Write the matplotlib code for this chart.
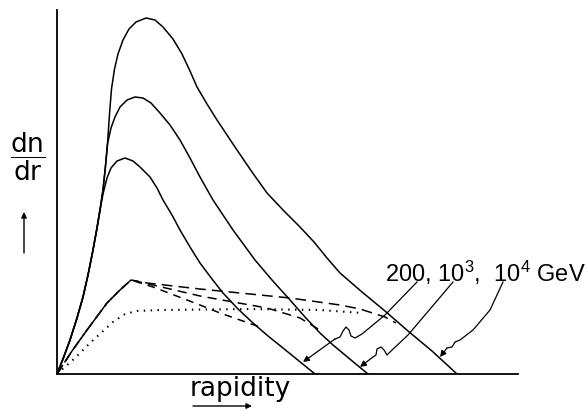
import matplotlib
matplotlib.use("Agg")
import matplotlib.pyplot as plt

# values: rapidity (arbitrary units) vs dn/dr (arbitrary units)
# the three solid curves (200, 10^3, 10^4 GeV) share the rising leg near the origin
x_200 = [0, 0.6, 1.3, 2.0, 2.6, 3.1, 3.6, 4.0, 4.3, 4.6, 5.0, 5.4, 6.0, 6.8, 7.6, 8.3, 9.3, 10.0, 10.6,
         11.5, 12.3, 13.3, 14.3, 15.5, 16.6, 18.1, 19.6, 21.1, 22.6, 24.2, 25.8]
y_200 = [0, 1.5, 3.4, 5.6, 7.7, 9.9, 12.4, 14.6, 16.4, 18.0, 19.6, 20.6, 21.3, 21.6, 21.3, 20.7, 19.7, 18.6, 17.4,
         15.9, 14.4, 12.7, 11.1, 9.5, 8.1, 6.5, 5.1, 3.8, 2.6, 1.3, 0]

x_1e3 = [0, 0.6, 1.3, 2.0, 2.6, 3.1, 3.6, 4.0, 4.3, 4.6, 4.85, 5.05, 5.4, 5.8, 6.3, 7.0, 7.8, 8.6, 9.4, 10.3,
         11.3, 12.3, 13.3, 14.3, 15.6, 16.6, 17.6, 18.7, 19.8, 21.5, 23.3, 24.8, 26.3, 27.6, 28.8, 30.0, 31.1]
y_1e3 = [0, 1.5, 3.4, 5.6, 7.7, 9.9, 12.4, 14.6, 16.4, 18.4, 20.8, 23.0, 24.6, 25.7, 26.7, 27.4, 27.7, 27.6, 27.1, 26.1,
         24.9, 23.4, 21.6, 19.7, 17.4, 15.9, 14.4, 12.9, 11.4, 9.4, 7.4, 5.7, 4.1, 2.9, 1.9, 0.9, 0]

x_1e4 = [0, 0.6, 1.3, 2.0, 2.6, 3.1, 3.6, 4.0, 4.3, 4.6, 4.85, 5.05, 5.25, 5.45, 5.75, 6.1, 6.6, 7.2, 7.9, 8.9,
         9.8, 10.6, 11.6, 12.5, 13.3, 14.0, 15.0, 16.0, 17.0, 18.0, 19.5, 21.0, 22.7, 24.3, 25.7, 27.0, 28.3,
         30.5, 32.8, 35.1, 37.5, 40.0]
y_1e4 = [0, 1.5, 3.4, 5.6, 7.7, 9.9, 12.4, 14.6, 16.4, 18.4, 20.8, 23.0, 26.0, 28.5, 30.5, 32.0, 33.4, 34.5, 35.2, 35.6,
         35.4, 34.7, 33.5, 32.0, 30.3, 28.7, 27.0, 25.4, 23.9, 22.4, 20.2, 18.1, 16.3, 14.7, 13.2, 11.6, 10.1,
         8.2, 6.3, 4.3, 2.3, 0]

# dashed curves
xa = [0, 1.5, 3.0, 5.0, 6.3, 7.4, 9.0, 14.3, 16.3, 23.3, 28.3, 30.3, 32.8, 33.9]
ya = [0, 2.3, 4.4, 7.1, 8.4, 9.4, 9.1, 8.5, 8.3, 7.6, 6.9, 6.5, 5.7, 5.1]
xb = [0, 1.5, 3.0, 5.0, 6.3, 7.4, 9.6, 14.3, 17.6, 21.0, 24.3, 26.6]
yb = [0, 2.3, 4.4, 7.1, 8.4, 9.4, 8.9, 7.8, 7.2, 6.6, 5.6, 4.2]
xc = [0, 1.5, 3.0, 5.0, 6.3, 7.4, 9.6, 13.0, 14.3, 16.3, 20.3]
yc = [0, 2.3, 4.4, 7.1, 8.4, 9.4, 8.7, 7.4, 6.9, 6.1, 4.7]

# dotted curve
xd = [0, 1.8, 3.3, 4.5, 5.6, 6.8, 8.0, 10.3, 19.3, 26.3, 30.5]
yd = [0, 1.6, 3.1, 4.2, 5.2, 6.0, 6.3, 6.4, 6.5, 6.4, 6.1]

# wavy pointer lines from the energy label to the curves
p200_x = [36.0, 32.8, 30.5, 29.8, 29.4, 29.2, 28.9, 28.6, 28.3, 27.8]
p200_y = [9.2, 5.9, 4.0, 3.6, 3.8, 4.4, 4.7, 4.3, 3.7, 3.5]
tip200 = (24.6, 1.2)
p1e3_x = [39.6, 35.1, 33.3, 33.0, 32.7, 32.4, 32.0, 31.9, 31.6]
p1e3_y = [9.2, 3.9, 2.2, 1.9, 2.4, 2.7, 2.5, 1.9, 1.7]
tip1e3 = (30.3, 0.7)
p1e4_x = [44.6, 43.3, 41.6, 40.3, 39.8, 39.5, 39.0]
p1e4_y = [9.2, 6.4, 4.4, 3.4, 3.2, 2.7, 2.6]
tip1e4 = (38.3, 1.7)

W, H = 587, 411
fig = plt.figure(figsize=(W / 100, H / 100), dpi=100)
ax = fig.add_axes([57 / W, 37 / H, 461 / W, 364 / H])
ax.set_xlim(0, 46.1)
ax.set_ylim(0, 36.4)
for s in ["top", "right"]:
    ax.spines[s].set_visible(False)
for s in ["left", "bottom"]:
    ax.spines[s].set_linewidth(1.3)
ax.set_xticks([])
ax.set_yticks([])

lw = 1.1
for xs, ys in [(x_200, y_200), (x_1e3, y_1e3), (x_1e4, y_1e4)]:
    ax.plot(xs, ys, c="k", lw=lw, solid_joinstyle="round")
ax.plot(xa, ya, c="k", lw=lw, dashes=(7, 4))
ax.plot(xb, yb, c="k", lw=lw, dashes=(6, 4))
ax.plot(xc, yc, c="k", lw=lw, dashes=(5, 4))
ax.plot(xd, yd, c="k", lw=1.5, dashes=(0.7, 2.6))

for px, py, tip in [(p200_x, p200_y, tip200), (p1e3_x, p1e3_y, tip1e3), (p1e4_x, p1e4_y, tip1e4)]:
    ax.plot(px, py, c="k", lw=0.9, solid_joinstyle="round")
    ax.annotate("", xy=tip, xytext=(px[-1], py[-1]),
                arrowprops=dict(arrowstyle="-|>", lw=0.9, color="k", mutation_scale=9, shrinkA=0, shrinkB=0))

plt.rcParams["mathtext.default"] = "regular"
ax.text(32.8, 9.2, r"200, 10$^{3}$,  10$^{4}$ GeV", fontsize=17, family=["Liberation Sans", "DejaVu Sans"],
        ha="left", va="baseline")

fig.text(28 / W, (H - 157) / H, r"$\dfrac{\mathrm{dn}}{\mathrm{dr}}$", fontsize=19, ha="center", va="center")
ax.annotate("", xy=(24 / W, (H - 212) / H), xytext=(24 / W, (H - 253) / H), xycoords="figure fraction",
            arrowprops=dict(arrowstyle="-|>", lw=1, color="k", mutation_scale=8, shrinkA=0, shrinkB=0),
            annotation_clip=False)

fig.text(240 / W, (H - 396) / H, "rapidity", fontsize=19, ha="center", va="baseline")
ax.annotate("", xy=(252 / W, (H - 406) / H), xytext=(193 / W, (H - 406) / H), xycoords="figure fraction",
            arrowprops=dict(arrowstyle="-|>", lw=1, color="k", mutation_scale=8, shrinkA=0, shrinkB=0),
            annotation_clip=False)

fig.savefig("out.png", dpi=100)
